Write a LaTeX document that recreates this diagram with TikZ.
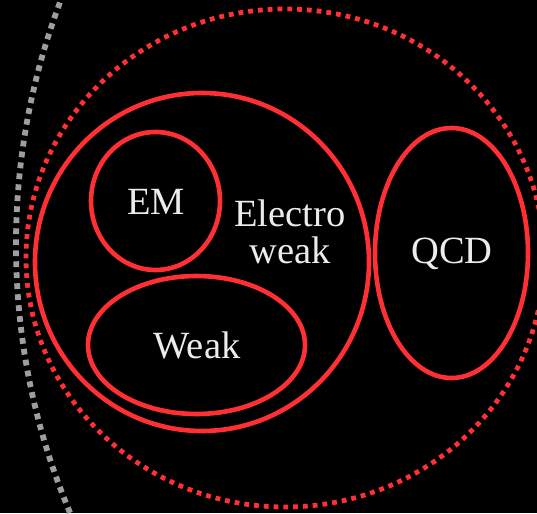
\documentclass[tikz,border=0pt]{standalone}
\usepackage{fontspec}
\setmainfont{Liberation Serif}
\usepackage{xcolor}
\usetikzlibrary{calc}
\definecolor{ringred}{RGB}{255,48,52}
\definecolor{dotgray}{RGB}{158,158,158}
\definecolor{txtgray}{RGB}{236,236,236}
\tikzset{
    ring/.style={draw=ringred, line width=4.6pt},
    redrim/.style={draw=ringred, line width=4.8pt, dash pattern=on 4.8pt off 5pt},
    grayrim/.style={draw=dotgray, line width=5.8pt, dash pattern=on 5.8pt off 5.2pt},
    force/.style={text=txtgray, font=\fontsize{38.5}{41}\selectfont, inner sep=0pt, align=center}
}

\begin{document}
\begin{tikzpicture}[x=1pt,y=-1pt]
    \fill[black] (0,0) rectangle (537,513);
    \useasboundingbox (0,0) rectangle (537,513);
    \clip (0,0) rectangle (537,513);

    \coordinate (far) at (704,245);
    \coordinate (all) at (285,258);
    \coordinate (ew) at (202,262);
    \coordinate (emc) at (155.5,201);
    \coordinate (wkc) at (196.5,345);
    \coordinate (qcdc) at (451.5,253);

    \draw[grayrim] (far) circle [radius=688pt];
    \draw[redrim] (all) ellipse [x radius=259pt, y radius=249pt];
    \draw[ring] (ew) ellipse [x radius=167pt, y radius=169pt];
    \draw[ring] (emc) ellipse [x radius=64.5pt, y radius=69pt];
    \draw[ring] (wkc) ellipse [x radius=108.5pt, y radius=69pt];
    \draw[ring] (qcdc) ellipse [x radius=76.5pt, y radius=125pt];

    \node[force] (em) at (156,202) {EM};
    \node[force] (electroweak) at (290,232) {Electro\\[-4pt]weak};
    \node[force] (weak) at (197,345) {Weak};
    \node[force] (qcd) at (452,254) {QCD};
\end{tikzpicture}
\end{document}
